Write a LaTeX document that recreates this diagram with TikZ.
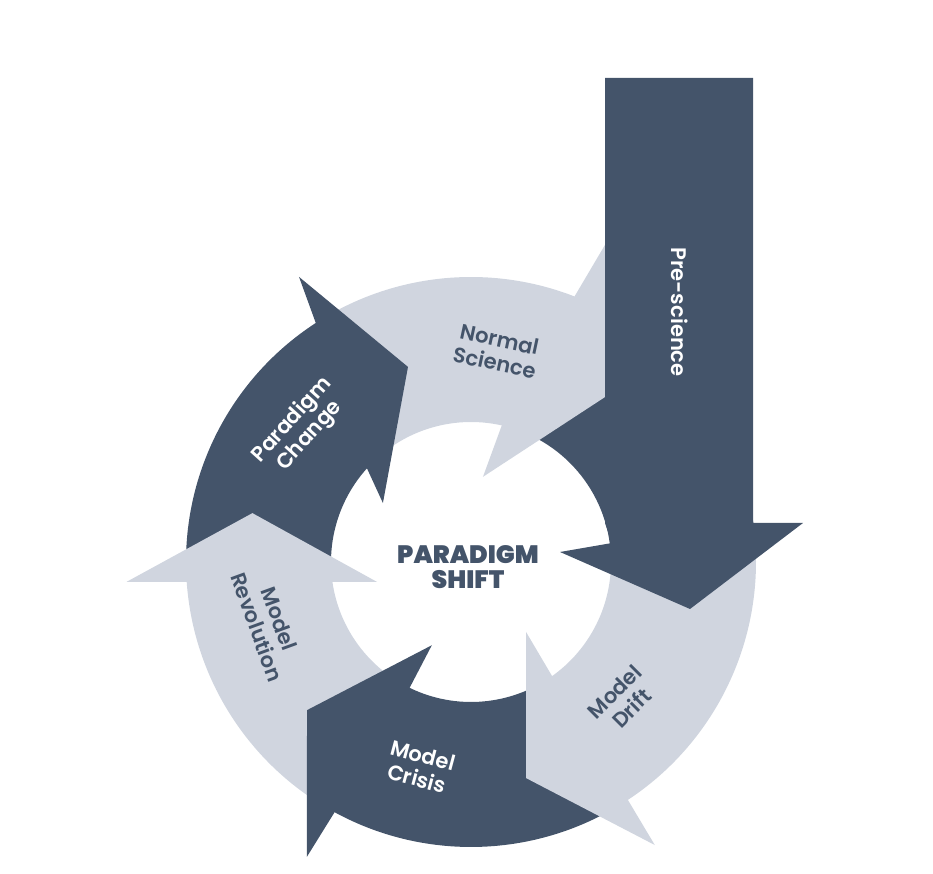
\documentclass[tikz,border=0pt]{standalone}
\usepackage{fontspec}
\setmainfont{Poppins}
\newfontfamily\labelfont{Poppins SemiBold}
\newfontfamily\titlefont{Poppins Black}
\definecolor{slate}{HTML}{44546A}
\definecolor{mist}{HTML}{D0D5DF}
\newcommand{\rout}{285}
\newcommand{\rin}{140}

\begin{document}
\begin{tikzpicture}[x=0.02cm, y=0.02cm,
        dark/.style={fill=slate},
        light/.style={fill=mist},
        ringlabel/.style={font=\labelfont\fontsize{12}{13.5}\selectfont, align=center, inner sep=0pt}]
    \useasboundingbox (-471,-312) rectangle (462,562);

    % shafts of the ring
    \fill[dark] (183:\rout) arc[start angle=183, end angle=121, radius=\rout]
        -- (136:\rin) arc[start angle=136, end angle=187.2, radius=\rin] -- cycle;
    \fill[light] (122:\rout) arc[start angle=122, end angle=66.7, radius=\rout]
        -- (75.3:\rin) arc[start angle=75.3, end angle=137, radius=\rin] -- cycle;
    \fill[dark] (67.7:\rout) arc[start angle=67.7, end angle=2, radius=\rout]
        -- (0:\rin) arc[start angle=0, end angle=76.3, radius=\rin] -- cycle;
    \fill[light] (2:\rout) arc[start angle=2, end angle=-58.6, radius=\rout]
        -- (-56.6:\rin) arc[start angle=-56.6, end angle=0, radius=\rin] -- cycle;
    \fill[dark] (-57.6:\rout) arc[start angle=-57.6, end angle=-120.6, radius=\rout]
        -- (-118:\rin) arc[start angle=-118, end angle=-55.6, radius=\rin] -- cycle;
    \fill[light] (-119.6:\rout) arc[start angle=-119.6, end angle=-178, radius=\rout]
        -- (-173.8:\rin) arc[start angle=-173.8, end angle=-117, radius=\rin] -- cycle;

    % heads
    \fill[dark] (123:\rout) -- (121.1:333) -- (107.9:205) -- (146.2:106) -- (138:\rin) -- cycle;
    \fill[light] (68.7:\rout) -- (66.5:373) -- (48:253) -- (82:86) -- (77.3:\rin) -- cycle;
    \fill[light] (-56.6:\rout) -- (-57:337.5) -- (-75.7:223) -- (-51.8:89) -- (-54.6:\rin) -- cycle;
    \fill[dark] (-118.6:\rout) -- (-119.1:337.5) -- (-137.9:221) -- (-115.2:92) -- (-116:\rin) -- cycle;
    \fill[light] (184:\rout) -- (183.3:345) -- (167.4:224) -- (192:96) -- (188.2:\rin) -- cycle;

    % the long arrow
    \fill[dark] (134,484) -- (282,484) -- (282,39) -- (332,39) -- (219,-47)
        -- (89,10) -- (141,19) -- (134,39) -- cycle;

    \node[ringlabel, text=white, rotate=48] (change) at (-170,134) {Paradigm\\Change};
    \node[ringlabel, text=slate, rotate=-12] (normal) at (26,211) {Normal\\Science};
    \node[ringlabel, text=white, rotate=-90] (prescience) at (209,250) {Pre-science};
    \node[ringlabel, text=slate, rotate=45] (drift) at (152,-138) {Model\\Drift};
    \node[ringlabel, text=white, rotate=-15] (crisis) at (-51,-205) {Model\\Crisis};
    \node[ringlabel, text=slate, rotate=-70] (revolution) at (-203,-61) {Model\\Revolution};
    \node[font=\titlefont\fontsize{14.3}{14.4}\selectfont, text=slate, align=center, inner sep=0pt]
        (shift) at (-3,-5) {PARADIGM\\SHIFT};
\end{tikzpicture}
\end{document}
